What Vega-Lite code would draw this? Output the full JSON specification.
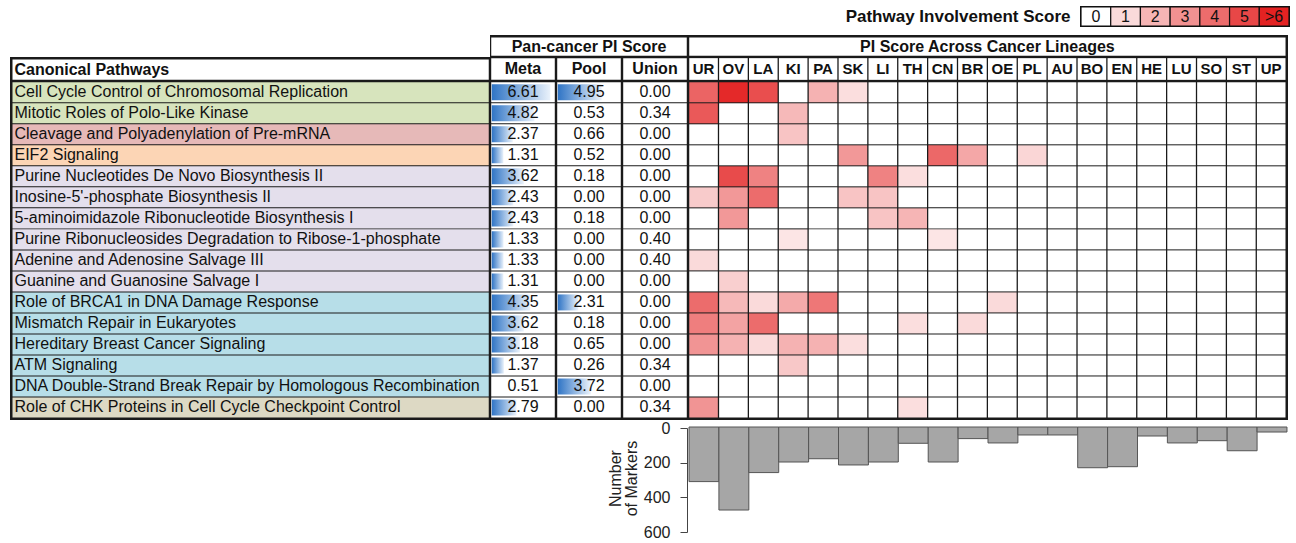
{
  "$schema": "https://vega.github.io/schema/vega-lite/v6.json",
  "padding": {"left": 10, "top": 5, "right": 0, "bottom": 0},
  "config": {
    "font": "Liberation Sans",
    "view": {"stroke": null},
    "text": {"font": "Liberation Sans", "fontSize": 16, "color": "#111111"}
  },
  "datasets": {
    "pw": [
      {"name": "Cell Cycle Control of Chromosomal Replication", "group": "Cell cycle", "Meta": 6.61, "Pool": 4.95, "Union": 0.00, "UR": 4.2, "OV": 5.8, "LA": 4.8, "KI": 0, "PA": 2.1, "SK": 0.9, "LI": 0, "TH": 0, "CN": 0, "BR": 0, "OE": 0, "PL": 0, "AU": 0, "BO": 0, "EN": 0, "HE": 0, "LU": 0, "SO": 0, "ST": 0, "UP": 0},
      {"name": "Mitotic Roles of Polo-Like Kinase", "group": "Cell cycle", "Meta": 4.82, "Pool": 0.53, "Union": 0.34, "UR": 4.5, "OV": 0, "LA": 0, "KI": 1.9, "PA": 0, "SK": 0, "LI": 0, "TH": 0, "CN": 0, "BR": 0, "OE": 0, "PL": 0, "AU": 0, "BO": 0, "EN": 0, "HE": 0, "LU": 0, "SO": 0, "ST": 0, "UP": 0},
      {"name": "Cleavage and Polyadenylation of Pre-mRNA", "group": "mRNA processing", "Meta": 2.37, "Pool": 0.66, "Union": 0.00, "UR": 0, "OV": 0, "LA": 0, "KI": 1.6, "PA": 0, "SK": 0, "LI": 0, "TH": 0, "CN": 0, "BR": 0, "OE": 0, "PL": 0, "AU": 0, "BO": 0, "EN": 0, "HE": 0, "LU": 0, "SO": 0, "ST": 0, "UP": 0},
      {"name": "EIF2 Signaling", "group": "Translation", "Meta": 1.31, "Pool": 0.52, "Union": 0.00, "UR": 0, "OV": 0, "LA": 0, "KI": 0, "PA": 0, "SK": 2.8, "LI": 0, "TH": 0, "CN": 4.1, "BR": 2.4, "OE": 0, "PL": 1.1, "AU": 0, "BO": 0, "EN": 0, "HE": 0, "LU": 0, "SO": 0, "ST": 0, "UP": 0},
      {"name": "Purine Nucleotides De Novo Biosynthesis II", "group": "Purine metabolism", "Meta": 3.62, "Pool": 0.18, "Union": 0.00, "UR": 0, "OV": 4.9, "LA": 3.4, "KI": 0, "PA": 0, "SK": 0, "LI": 3.4, "TH": 0.9, "CN": 0, "BR": 0, "OE": 0, "PL": 0, "AU": 0, "BO": 0, "EN": 0, "HE": 0, "LU": 0, "SO": 0, "ST": 0, "UP": 0},
      {"name": "Inosine-5'-phosphate Biosynthesis II", "group": "Purine metabolism", "Meta": 2.43, "Pool": 0.00, "Union": 0.00, "UR": 1.4, "OV": 2.8, "LA": 4.0, "KI": 0, "PA": 0, "SK": 1.6, "LI": 1.6, "TH": 0, "CN": 0, "BR": 0, "OE": 0, "PL": 0, "AU": 0, "BO": 0, "EN": 0, "HE": 0, "LU": 0, "SO": 0, "ST": 0, "UP": 0},
      {"name": "5-aminoimidazole Ribonucleotide Biosynthesis I", "group": "Purine metabolism", "Meta": 2.43, "Pool": 0.18, "Union": 0.00, "UR": 0, "OV": 2.8, "LA": 0, "KI": 0, "PA": 0, "SK": 0, "LI": 1.6, "TH": 2.0, "CN": 0, "BR": 0, "OE": 0, "PL": 0, "AU": 0, "BO": 0, "EN": 0, "HE": 0, "LU": 0, "SO": 0, "ST": 0, "UP": 0},
      {"name": "Purine Ribonucleosides Degradation to Ribose-1-phosphate", "group": "Purine metabolism", "Meta": 1.33, "Pool": 0.00, "Union": 0.40, "UR": 0, "OV": 0, "LA": 0, "KI": 0.7, "PA": 0, "SK": 0, "LI": 0, "TH": 0, "CN": 0.7, "BR": 0, "OE": 0, "PL": 0, "AU": 0, "BO": 0, "EN": 0, "HE": 0, "LU": 0, "SO": 0, "ST": 0, "UP": 0},
      {"name": "Adenine and Adenosine Salvage III", "group": "Purine metabolism", "Meta": 1.33, "Pool": 0.00, "Union": 0.40, "UR": 1.0, "OV": 0, "LA": 0, "KI": 0, "PA": 0, "SK": 0, "LI": 0, "TH": 0, "CN": 0, "BR": 0, "OE": 0, "PL": 0, "AU": 0, "BO": 0, "EN": 0, "HE": 0, "LU": 0, "SO": 0, "ST": 0, "UP": 0},
      {"name": "Guanine and Guanosine Salvage I", "group": "Purine metabolism", "Meta": 1.31, "Pool": 0.00, "Union": 0.00, "UR": 0, "OV": 1.3, "LA": 0, "KI": 0, "PA": 0, "SK": 0, "LI": 0, "TH": 0, "CN": 0, "BR": 0, "OE": 0, "PL": 0, "AU": 0, "BO": 0, "EN": 0, "HE": 0, "LU": 0, "SO": 0, "ST": 0, "UP": 0},
      {"name": "Role of BRCA1 in DNA Damage Response", "group": "DNA repair", "Meta": 4.35, "Pool": 2.31, "Union": 0.00, "UR": 4.0, "OV": 1.9, "LA": 1.0, "KI": 2.3, "PA": 3.7, "SK": 0, "LI": 0, "TH": 0, "CN": 0, "BR": 0, "OE": 1.0, "PL": 0, "AU": 0, "BO": 0, "EN": 0, "HE": 0, "LU": 0, "SO": 0, "ST": 0, "UP": 0},
      {"name": "Mismatch Repair in Eukaryotes", "group": "DNA repair", "Meta": 3.62, "Pool": 0.18, "Union": 0.00, "UR": 3.5, "OV": 2.5, "LA": 4.0, "KI": 0, "PA": 0, "SK": 0, "LI": 0, "TH": 0.9, "CN": 0, "BR": 1.0, "OE": 0, "PL": 0, "AU": 0, "BO": 0, "EN": 0, "HE": 0, "LU": 0, "SO": 0, "ST": 0, "UP": 0},
      {"name": "Hereditary Breast Cancer Signaling", "group": "DNA repair", "Meta": 3.18, "Pool": 0.65, "Union": 0.00, "UR": 2.9, "OV": 2.1, "LA": 1.0, "KI": 2.1, "PA": 2.1, "SK": 0.9, "LI": 0, "TH": 0, "CN": 0, "BR": 0, "OE": 0, "PL": 0, "AU": 0, "BO": 0, "EN": 0, "HE": 0, "LU": 0, "SO": 0, "ST": 0, "UP": 0},
      {"name": "ATM Signaling", "group": "DNA repair", "Meta": 1.37, "Pool": 0.26, "Union": 0.34, "UR": 0, "OV": 0, "LA": 0, "KI": 1.5, "PA": 0, "SK": 0, "LI": 0, "TH": 0, "CN": 0, "BR": 0, "OE": 0, "PL": 0, "AU": 0, "BO": 0, "EN": 0, "HE": 0, "LU": 0, "SO": 0, "ST": 0, "UP": 0},
      {"name": "DNA Double-Strand Break Repair by Homologous Recombination", "group": "DNA repair", "Meta": 0.51, "Pool": 3.72, "Union": 0.00, "UR": 0, "OV": 0, "LA": 0, "KI": 0, "PA": 0, "SK": 0, "LI": 0, "TH": 0, "CN": 0, "BR": 0, "OE": 0, "PL": 0, "AU": 0, "BO": 0, "EN": 0, "HE": 0, "LU": 0, "SO": 0, "ST": 0, "UP": 0},
      {"name": "Role of CHK Proteins in Cell Cycle Checkpoint Control", "group": "Checkpoint", "Meta": 2.79, "Pool": 0.00, "Union": 0.34, "UR": 2.9, "OV": 0, "LA": 0, "KI": 0, "PA": 0, "SK": 0, "LI": 0, "TH": 0.9, "CN": 0, "BR": 0, "OE": 0, "PL": 0, "AU": 0, "BO": 0, "EN": 0, "HE": 0, "LU": 0, "SO": 0, "ST": 0, "UP": 0}
    ],
    "lin": [
      {"code": "UR", "markers": 315}, {"code": "OV", "markers": 479}, {"code": "LA", "markers": 263},
      {"code": "KI", "markers": 202}, {"code": "PA", "markers": 183}, {"code": "SK", "markers": 219},
      {"code": "LI", "markers": 202}, {"code": "TH", "markers": 94}, {"code": "CN", "markers": 202},
      {"code": "BR", "markers": 67}, {"code": "OE", "markers": 92}, {"code": "PL", "markers": 46},
      {"code": "AU", "markers": 46}, {"code": "BO", "markers": 235}, {"code": "EN", "markers": 229},
      {"code": "HE", "markers": 52}, {"code": "LU", "markers": 92}, {"code": "SO", "markers": 79},
      {"code": "ST", "markers": 137}, {"code": "UP", "markers": 29}
    ],
    "legend": [
      {"level": 0, "label": "0", "title": "Pathway Involvement Score"},
      {"level": 1, "label": "1", "title": "Pathway Involvement Score"},
      {"level": 2, "label": "2", "title": "Pathway Involvement Score"},
      {"level": 3, "label": "3", "title": "Pathway Involvement Score"},
      {"level": 4, "label": "4", "title": "Pathway Involvement Score"},
      {"level": 5, "label": "5", "title": "Pathway Involvement Score"},
      {"level": 6, "label": ">6", "title": "Pathway Involvement Score"}
    ]
  },
  "spacing": 7,
  "vconcat": [
    {
      "spacing": 0,
      "bounds": "flush",
      "hconcat": [
        {"width": 1071, "height": 19, "data": {"values": [{}]}, "mark": {"type": "point", "opacity": 0}},
        {
          "width": 208, "height": 19,
          "data": {"name": "legend"},
          "view": {"stroke": "#111111", "strokeWidth": 2},
          "encoding": {
            "x": {"field": "label", "type": "nominal", "sort": null, "scale": {"paddingInner": 0, "paddingOuter": 0}, "axis": null},
            "y": {"field": "title", "type": "nominal", "scale": {"paddingInner": 0, "paddingOuter": 0}, "axis": {"title": null, "labelFontSize": 17, "labelFontWeight": "bold", "labelPadding": 11, "labelLimit": 500, "ticks": false, "domain": false, "labelColor": "#111111", "labelFont": "Liberation Sans"}}
          },
          "layer": [
            {"mark": {"type": "rect", "stroke": "#111111", "strokeWidth": 1.2},
             "encoding": {"color": {"field": "level", "type": "quantitative", "scale": {"domain": [0, 6], "range": ["#ffffff", "#e32222"], "interpolate": "rgb", "clamp": true}, "legend": null}}},
            {"mark": {"type": "text", "fontSize": 16}, "encoding": {"text": {"field": "label"}}}
          ]
        }
      ]
    },
    {
      "spacing": 0,
      "hconcat": [
        {
          "spacing": 0,
          "bounds": "flush",
          "vconcat": [
            {"width": 480, "height": 22, "data": {"values": [{}]}, "mark": {"type": "point", "opacity": 0}},
            {"width": 480, "height": 24, "data": {"values": [{"h": "Canonical Pathways"}]},
             "view": {"fill": "#1a1a1a"},
             "encoding": {
               "x": {"datum": "c", "type": "nominal", "scale": {"paddingInner": 0, "paddingOuter": 0.00394, "align": 0.667}, "axis": null},
               "y": {"datum": "c", "type": "nominal", "scale": {"paddingInner": 0, "paddingOuter": 0.0926, "align": 0.667}, "axis": null}
             },
             "layer": [
               {"mark": {"type": "rect", "fill": "#ffffff"}},
               {"mark": {"type": "text", "align": "left", "fontWeight": "bold", "fontSize": 16, "dx": 2},
                "encoding": {"text": {"field": "h"}, "x": {"datum": "c", "type": "nominal", "bandPosition": 0}}}
             ]},
            {"width": 480, "height": 339, "data": {"name": "pw"},
             "view": {"fill": "#1a1a1a"},
             "encoding": {
               "x": {"datum": "c", "type": "nominal", "scale": {"paddingInner": 0, "paddingOuter": 0.00394, "align": 0.667}, "axis": null},
               "y": {"field": "name", "type": "nominal", "sort": null, "axis": null, "scale": {"paddingInner": 0.047, "paddingOuter": 0.0897, "align": 0.337}}
             },
             "layer": [
               {"mark": {"type": "rect"},
                "encoding": {"fill": {"field": "group", "type": "nominal", "legend": null,
                  "scale": {"domain": ["Cell cycle", "mRNA processing", "Translation", "Purine metabolism", "DNA repair", "Checkpoint"],
                            "range": ["#d7e4bd", "#e6b9b8", "#fcd5b5", "#e4dfec", "#b7dee8", "#ddd9c4"]}}}},
               {"mark": {"type": "text", "align": "left", "dx": 2, "fontSize": 16},
                "encoding": {"text": {"field": "name"}, "x": {"datum": "c", "type": "nominal", "bandPosition": 0}}}
             ]}
          ]
        },
        {
          "spacing": 0,
          "vconcat": [
            {"width": 198, "height": 22, "data": {"values": [{"h": "Pan-cancer PI Score"}]},
             "view": {"fill": "#1a1a1a"},
             "encoding": {
               "x": {"datum": "c", "type": "nominal", "scale": {"paddingInner": 0, "paddingOuter": 0.0063}, "axis": null},
               "y": {"datum": "c", "type": "nominal", "scale": {"paddingInner": 0, "paddingOuter": 0.1027, "align": 0.667}, "axis": null}
             },
             "layer": [
               {"mark": {"type": "rect", "fill": "#ffffff"}},
               {"mark": {"type": "text", "fontWeight": "bold", "fontSize": 16}, "encoding": {"text": {"field": "h"}}}
             ]},
            {
              "spacing": 0,
              "hconcat": [
                {
                  "spacing": 0, "bounds": "flush",
                  "vconcat": [
                    {"width": 66, "height": 24, "data": {"values": [{"h": "Meta"}]},
                     "view": {"fill": "#1a1a1a"},
                     "encoding": {
                       "x": {"datum": "c", "type": "nominal", "scale": {"paddingInner": 0, "paddingOuter": 0.019}, "axis": null},
                       "y": {"datum": "c", "type": "nominal", "scale": {"paddingInner": 0, "paddingOuter": 0.052}, "axis": null}
                     },
                     "layer": [
                       {"mark": {"type": "rect", "fill": "#ffffff"}},
                       {"mark": {"type": "text", "fontWeight": "bold", "fontSize": 16}, "encoding": {"text": {"field": "h"}}}
                     ]},
                    {"width": 66, "height": 339, "data": {"name": "pw"},
                     "view": {"fill": "#1a1a1a"},
                     "encoding": {"y": {"field": "name", "type": "nominal", "sort": null, "axis": null, "scale": {"paddingInner": 0.047, "paddingOuter": 0.0897, "align": 0.337}}},
                     "layer": [
                       {"mark": {"type": "rect", "fill": "#ffffff"},
                        "encoding": {"x": {"datum": "c", "type": "nominal", "scale": {"paddingInner": 0, "paddingOuter": 0.019}, "axis": null}}},
                       {"transform": [{"filter": "datum.Meta >= 1.3"}],
                        "mark": {"type": "bar", "height": {"band": 0.8},
                                 "fill": {"gradient": "linear", "x1": 0, "y1": 0, "x2": 1, "y2": 0, "stops": [{"offset": 0, "color": "#2f74c5"}, {"offset": 1, "color": "#eaf2fb"}]}},
                        "encoding": {"x": {"field": "Meta", "type": "quantitative", "scale": {"domain": [-0.2, 7.25], "nice": false, "zero": false}, "axis": null}, "x2": {"datum": 0}}},
                       {"mark": {"type": "text", "fontSize": 16}, "encoding": {"text": {"field": "Meta", "type": "quantitative", "format": ".2f"}}}
                     ],
                     "resolve": {"scale": {"x": "independent"}}}
                  ]
                },
                {
                  "spacing": 0, "bounds": "flush",
                  "vconcat": [
                    {"width": 66, "height": 24, "data": {"values": [{"h": "Pool"}]},
                     "view": {"fill": "#1a1a1a"},
                     "encoding": {
                       "x": {"datum": "c", "type": "nominal", "scale": {"paddingInner": 0, "paddingOuter": 0.019}, "axis": null},
                       "y": {"datum": "c", "type": "nominal", "scale": {"paddingInner": 0, "paddingOuter": 0.052}, "axis": null}
                     },
                     "layer": [
                       {"mark": {"type": "rect", "fill": "#ffffff"}},
                       {"mark": {"type": "text", "fontWeight": "bold", "fontSize": 16}, "encoding": {"text": {"field": "h"}}}
                     ]},
                    {"width": 66, "height": 339, "data": {"name": "pw"},
                     "view": {"fill": "#1a1a1a"},
                     "encoding": {"y": {"field": "name", "type": "nominal", "sort": null, "axis": null, "scale": {"paddingInner": 0.047, "paddingOuter": 0.0897, "align": 0.337}}},
                     "layer": [
                       {"mark": {"type": "rect", "fill": "#ffffff"},
                        "encoding": {"x": {"datum": "c", "type": "nominal", "scale": {"paddingInner": 0, "paddingOuter": 0.019}, "axis": null}}},
                       {"transform": [{"filter": "datum.Pool >= 1.3"}],
                        "mark": {"type": "bar", "height": {"band": 0.8},
                                 "fill": {"gradient": "linear", "x1": 0, "y1": 0, "x2": 1, "y2": 0, "stops": [{"offset": 0, "color": "#2f74c5"}, {"offset": 1, "color": "#eaf2fb"}]}},
                        "encoding": {"x": {"field": "Pool", "type": "quantitative", "scale": {"domain": [-0.2, 7.25], "nice": false, "zero": false}, "axis": null}, "x2": {"datum": 0}}},
                       {"mark": {"type": "text", "fontSize": 16}, "encoding": {"text": {"field": "Pool", "type": "quantitative", "format": ".2f"}}}
                     ],
                     "resolve": {"scale": {"x": "independent"}}}
                  ]
                },
                {
                  "spacing": 0, "bounds": "flush",
                  "vconcat": [
                    {"width": 66, "height": 24, "data": {"values": [{"h": "Union"}]},
                     "view": {"fill": "#1a1a1a"},
                     "encoding": {
                       "x": {"datum": "c", "type": "nominal", "scale": {"paddingInner": 0, "paddingOuter": 0.019}, "axis": null},
                       "y": {"datum": "c", "type": "nominal", "scale": {"paddingInner": 0, "paddingOuter": 0.052}, "axis": null}
                     },
                     "layer": [
                       {"mark": {"type": "rect", "fill": "#ffffff"}},
                       {"mark": {"type": "text", "fontWeight": "bold", "fontSize": 16}, "encoding": {"text": {"field": "h"}}}
                     ]},
                    {"width": 66, "height": 339, "data": {"name": "pw"},
                     "view": {"fill": "#1a1a1a"},
                     "encoding": {
                       "x": {"datum": "c", "type": "nominal", "scale": {"paddingInner": 0, "paddingOuter": 0.019}, "axis": null},
                       "y": {"field": "name", "type": "nominal", "sort": null, "axis": null, "scale": {"paddingInner": 0.047, "paddingOuter": 0.0897, "align": 0.337}}
                     },
                     "layer": [
                       {"mark": {"type": "rect", "fill": "#ffffff"}},
                       {"mark": {"type": "text", "fontSize": 16}, "encoding": {"text": {"field": "Union", "type": "quantitative", "format": ".2f"}}}
                     ]}
                  ]
                }
              ]
            },
            {"width": 198, "height": 104, "data": {"name": "lin"},
             "mark": {"type": "point", "opacity": 0},
             "encoding": {
               "y": {"field": "markers", "type": "quantitative",
                     "scale": {"domain": [0, 600], "reverse": true, "nice": false},
                     "axis": {"orient": "right", "offset": -1, "values": [0, 200, 400, 600], "grid": false, "tickSize": -7, "labelPadding": -10, "labelAlign": "right",
                              "labelFontSize": 16, "labelColor": "#222222", "tickColor": "#444444", "domainColor": "#444444",
                              "title": ["Number", "of Markers"], "titleX": -80, "titleY": 50, "titleAngle": -90, "titleAlign": "center", "titleBaseline": "top",
                              "titleFontSize": 16, "titleFontWeight": "normal", "titleColor": "#222222", "titleLineHeight": 16}}
             }}
          ]
        },
        {
          "spacing": 0,
          "bounds": "flush",
          "vconcat": [
            {"width": 600, "height": 22, "data": {"values": [{"h": "PI Score Across Cancer Lineages"}]},
             "view": {"fill": "#1a1a1a"},
             "encoding": {
               "x": {"datum": "c", "type": "nominal", "scale": {"paddingInner": 0, "paddingOuter": 0.0031, "align": 0.333}, "axis": null},
               "y": {"datum": "c", "type": "nominal", "scale": {"paddingInner": 0, "paddingOuter": 0.1027, "align": 0.667}, "axis": null}
             },
             "layer": [
               {"mark": {"type": "rect", "fill": "#ffffff"}},
               {"mark": {"type": "text", "fontWeight": "bold", "fontSize": 16}, "encoding": {"text": {"field": "h"}}}
             ]},
            {"width": 600, "height": 24, "data": {"name": "lin"},
             "view": {"fill": "#1a1a1a"},
             "encoding": {
               "x": {"field": "code", "type": "nominal", "sort": null, "scale": {"paddingInner": 0.043, "paddingOuter": 0.0627, "align": 0.333}, "axis": null},
               "y": {"datum": "c", "type": "nominal", "scale": {"paddingInner": 0, "paddingOuter": 0.052}, "axis": null}
             },
             "layer": [
               {"mark": {"type": "rect", "fill": "#ffffff"}},
               {"mark": {"type": "text", "fontWeight": "bold", "fontSize": 15}, "encoding": {"text": {"field": "code"}}}
             ]},
            {"width": 600, "height": 339, "data": {"name": "pw"},
             "view": {"fill": "#1a1a1a"},
             "transform": [{"fold": ["UR", "OV", "LA", "KI", "PA", "SK", "LI", "TH", "CN", "BR", "OE", "PL", "AU", "BO", "EN", "HE", "LU", "SO", "ST", "UP"], "as": ["code", "score"]}],
             "mark": {"type": "rect"},
             "encoding": {
               "x": {"field": "code", "type": "nominal", "sort": null, "scale": {"paddingInner": 0.043, "paddingOuter": 0.0627, "align": 0.333}, "axis": null},
               "y": {"field": "name", "type": "nominal", "sort": null, "scale": {"paddingInner": 0.047, "paddingOuter": 0.0897, "align": 0.337}, "axis": null},
               "color": {"field": "score", "type": "quantitative", "scale": {"domain": [0, 6], "range": ["#ffffff", "#e32222"], "interpolate": "rgb", "clamp": true}, "legend": null}
             }},
            {"width": 600, "height": 7, "data": {"values": [{}]}, "mark": {"type": "point", "opacity": 0}},
            {"width": 600, "height": 104, "data": {"name": "lin"},
             "mark": {"type": "bar", "fill": "#a6a6a6", "stroke": "#555555", "strokeWidth": 1},
             "encoding": {
               "x": {"field": "code", "type": "nominal", "sort": null, "scale": {"paddingInner": 0, "paddingOuter": 0.034}, "axis": null},
               "y": {"field": "markers", "type": "quantitative", "scale": {"domain": [0, 600], "reverse": true, "nice": false}, "axis": null}
             }}
          ]
        }
      ]
    }
  ]
}
